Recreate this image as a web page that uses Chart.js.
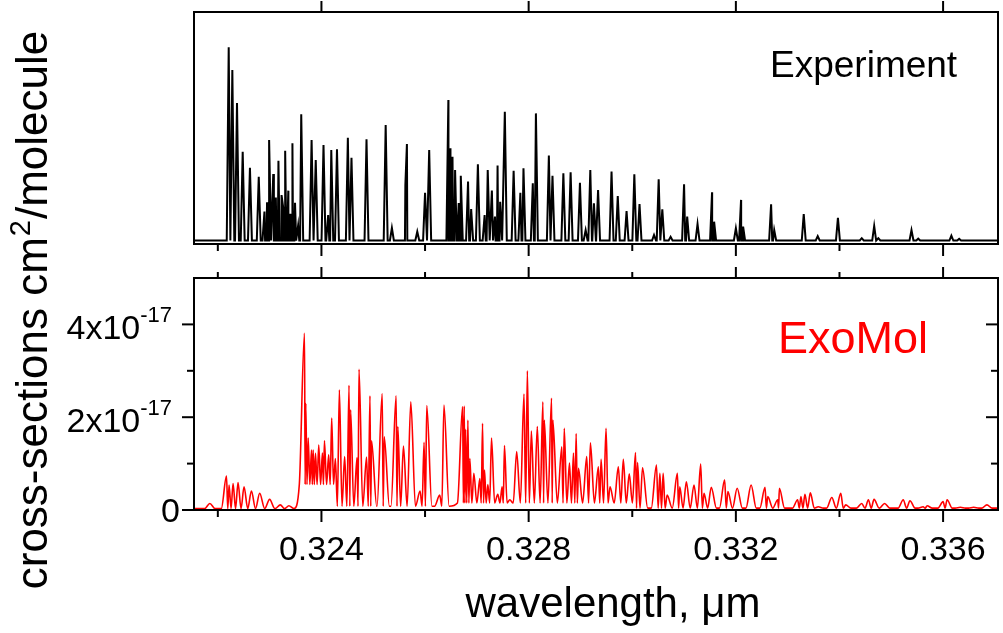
<!DOCTYPE html>
<html>
<head>
<meta charset="utf-8">
<script src="https://cdn.jsdelivr.net/npm/chart.js@4.4.1/dist/chart.umd.min.js"></script>
<style>
  html, body { margin: 0; padding: 0; background: #fff; }
  #wrap { position: relative; width: 1003px; height: 633px; }
  canvas { position: absolute; left: 0; top: 0; }
</style>
</head>
<body>
<div id="wrap">
  <canvas id="bottom" width="1003" height="633"></canvas>
  <canvas id="top" width="1003" height="633"></canvas>
</div>
<script>
// wavelength range, um
const X_MIN = 0.32154
const X_MAX = 0.33706
const xMajorTicks = [0.324, 0.328, 0.332, 0.336]
const xMinorTicks = [0.322, 0.326, 0.330, 0.334]
const xTickLabels = ['0.324', '0.328', '0.332', '0.336']

// lower panel y axis, units of 1e-17 cm^2/molecule
const yMajorTicks = [0, 2, 4]
const yMinorTicks = [1, 3]
const yTickLabels = [['0', ''], ['2x10', '-17'], ['4x10', '-17']]

// experiment: line centres (um) and peak heights (arb. units, 0..100 panel)
const expPeakX = [
  0.32221, 0.32228, 0.32237, 0.32248, 0.32262, 0.32279, 0.32290, 0.32295, 0.32299, 0.32307,
  0.32312, 0.32317, 0.32323, 0.32326, 0.32330, 0.32336, 0.32340, 0.32344, 0.32349, 0.32355,
  0.32361, 0.32381, 0.32389, 0.32404, 0.32413, 0.32419, 0.32430, 0.32451, 0.32458, 0.32487,
  0.32524, 0.32536, 0.32562, 0.32565, 0.32585, 0.32600, 0.32608, 0.32645, 0.32649, 0.32653,
  0.32658, 0.32665, 0.32669, 0.32683, 0.32689, 0.32702, 0.32715, 0.32721, 0.32729, 0.32735,
  0.32740, 0.32745, 0.32754, 0.32771, 0.32784, 0.32790, 0.32808, 0.32814, 0.32839, 0.32846,
  0.32867, 0.32881, 0.32899, 0.32910, 0.32919, 0.32926, 0.32934, 0.32960, 0.32972, 0.32989,
  0.33004, 0.33014, 0.33042, 0.33051, 0.33058, 0.33074, 0.33100, 0.33106, 0.33126, 0.33154,
  0.33158, 0.33200, 0.33210, 0.33214, 0.33268, 0.33274, 0.33331, 0.33358, 0.33397, 0.33443,
  0.33467, 0.33475, 0.33539, 0.33552, 0.33616, 0.33631
]
const expPeakY = [
  84.8, 75.0, 60.8, 39.8, 32.9, 29.0, 14.0, 18.0, 44.8, 30.2,
  20.0, 35.9, 21.1, 16.0, 40.2, 23.0, 13.0, 43.4, 17.8, 8.0,
  55.9, 44.8, 36.2, 42.7, 12.5, 40.5, 40.8, 45.8, 37.2, 45.1,
  51.3, 6.9, 25.4, 43.1, 5.3, 22.1, 40.5, 62.1, 41.3, 37.6,
  31.9, 17.7, 29.4, 26.9, 15.1, 34.4, 12.5, 31.9, 23.0, 11.8,
  33.8, 18.2, 57.0, 31.6, 22.1, 32.6, 26.2, 56.3, 38.1, 29.4,
  30.5, 30.9, 26.4, 6.0, 31.9, 17.5, 23.3, 31.2, 20.7, 14.2,
  30.0, 17.2, 3.9, 27.9, 15.0, 3.1, 25.7, 11.8, 8.6, 22.3,
  9.6, 6.8, 19.0, 7.5, 17.1, 6.0, 12.9, 3.4, 11.3, 2.5,
  7.8, 2.5, 6.0, 2.3, 3.6, 2.2
]
const EXP_BASE = 1.5
const EXP_HW = 0.000038

// ExoMol: line centres (um) and peak cross-sections (1e-17 cm^2/molecule)
const exoPeakX = [
  0.321846, 0.322167, 0.322217, 0.322294, 0.322390, 0.322506, 0.322648, 0.322808, 0.323000, 0.323206,
  0.323371, 0.323673, 0.323698, 0.323744, 0.323808, 0.323840, 0.323885, 0.323948, 0.324019, 0.324058,
  0.324140, 0.324198, 0.324269, 0.324346, 0.324448, 0.324533, 0.324563, 0.324687, 0.324725, 0.324871,
  0.324937, 0.324967, 0.325173, 0.325212, 0.325442, 0.325475, 0.325583, 0.325725, 0.325904, 0.325981,
  0.326033, 0.326283, 0.326365, 0.326725, 0.326756, 0.326783, 0.326827, 0.326865, 0.326942, 0.327058,
  0.327110, 0.327148, 0.327212, 0.327283, 0.327404, 0.327487, 0.327533, 0.327635, 0.327769, 0.327910,
  0.327975, 0.328052, 0.328167, 0.328275, 0.328302, 0.328442, 0.328467, 0.328640, 0.328687, 0.328788,
  0.328865, 0.328917, 0.328962, 0.329121, 0.329192, 0.329346, 0.329398, 0.329494, 0.329571, 0.329731,
  0.329827, 0.329942, 0.330063, 0.330102, 0.330198, 0.330467, 0.330533, 0.330596, 0.330673, 0.330871,
  0.330917, 0.331044, 0.331192, 0.331321, 0.331385, 0.331525, 0.331783, 0.331846, 0.332025, 0.332294,
  0.332563, 0.332615, 0.332808, 0.332840, 0.333192, 0.333256, 0.333333, 0.333437, 0.333590, 0.333852,
  0.334025, 0.334121, 0.334429, 0.334558, 0.334667, 0.334871, 0.335231, 0.335360, 0.335615, 0.335692,
  0.336000, 0.336077, 0.336333, 0.336590, 0.336846
]
const exoPeakY = [
  0.14, 0.73, 0.54, 0.57, 0.59, 0.50, 0.41, 0.36, 0.23, 0.11,
  0.09, 3.81, 2.30, 1.55, 1.29, 1.29, 1.22, 1.40, 1.23, 1.49,
  1.19, 1.98, 1.11, 2.59, 1.15, 2.69, 2.16, 1.13, 3.03, 1.14,
  2.46, 1.49, 2.51, 1.58, 2.46, 1.80, 1.38, 2.33, 0.41, 1.46,
  2.25, 0.32, 2.26, 2.23, 2.24, 1.74, 1.94, 1.11, 0.79, 0.68,
  1.87, 0.86, 0.55, 1.55, 0.34, 0.50, 1.39, 0.22, 1.26, 2.50,
  3.00, 1.70, 1.80, 2.33, 1.94, 2.41, 1.94, 1.36, 1.76, 1.01,
  1.23, 1.65, 0.90, 1.15, 1.45, 0.93, 1.09, 1.76, 0.50, 0.93,
  1.09, 0.78, 1.24, 1.02, 0.91, 0.97, 0.79, 0.79, 0.32, 0.79,
  0.50, 0.61, 0.54, 0.99, 0.36, 0.49, 0.65, 0.40, 0.47, 0.54,
  0.49, 0.29, 0.22, 0.47, 0.22, 0.29, 0.34, 0.37, 0.07, 0.27,
  0.36, 0.11, 0.14, 0.22, 0.23, 0.14, 0.22, 0.20, 0.07, 0.09,
  0.18, 0.22, 0.06, 0.06, 0.11
]
// valley level between ExoMol lines, per wavelength band
const exoFloorEdges = [0.32154, 0.32365, 0.32425, 0.32650, 0.33000, 0.33706]
const exoFloorLevel = [0.03, 0.55, 0.08, 0.15, 0.04]
const EXO_HW = 0.0001

function floorAt(x) {
  for (let i = 0; i < exoFloorLevel.length; i++) {
    if (x < exoFloorEdges[i + 1]) return exoFloorLevel[i]
  }
  return exoFloorLevel[exoFloorLevel.length - 1]
}

function expSeries() {
  let pts = [{x: X_MIN, y: EXP_BASE}, {x: X_MAX, y: EXP_BASE}]
  expPeakX.forEach((x, i) => {
    pts.push({x: x - EXP_HW, y: EXP_BASE}, {x: x, y: expPeakY[i]}, {x: x + EXP_HW, y: EXP_BASE})
  })
  return pts.sort((a, b) => a.x - b.x)
}

function exoSeries() {
  let pts = [{x: X_MIN, y: floorAt(X_MIN)}]
  exoPeakX.forEach((x, i) => {
    let prev = exoPeakX[i - 1]
    let next = exoPeakX[i + 1]
    if (prev === undefined || x - prev > 2 * EXO_HW) pts.push({x: x - EXO_HW, y: floorAt(x)})
    pts.push({x: x, y: exoPeakY[i]})
    if (next === undefined || next - x > 2 * EXO_HW) {
      pts.push({x: x + EXO_HW, y: floorAt(x)})
    } else {
      pts.push({x: (x + next) / 2, y: Math.min(floorAt(x), exoPeakY[i], exoPeakY[i + 1])})
    }
  })
  pts.push({x: X_MAX, y: floorAt(X_MAX)})
  return pts
}

const FONT = '"Liberation Sans", Arial, sans-serif'

// draws the boxed frame, the ticks and the texts of one panel
const framePlugin = {
  id: 'frame',
  afterDraw(chart, args, o) {
    let {ctx, chartArea: a, scales} = chart
    let sx = scales.x, sy = scales.y
    ctx.save()
    ctx.strokeStyle = '#000'
    ctx.lineWidth = 2
    ctx.strokeRect(a.left, a.top, a.right - a.left, a.bottom - a.top)

    let vline = (px, y0, y1) => { ctx.beginPath(); ctx.moveTo(px, y0); ctx.lineTo(px, y1); ctx.stroke() }
    let hline = (py, x0, x1) => { ctx.beginPath(); ctx.moveTo(x0, py); ctx.lineTo(x1, py); ctx.stroke() }

    // top edge ticks, pointing out
    xMajorTicks.forEach(v => vline(sx.getPixelForValue(v), a.top, a.top - 11))
    if (o.topMinor) xMinorTicks.forEach(v => vline(sx.getPixelForValue(v), a.top, a.top - 6))
    // bottom edge ticks, pointing out
    xMajorTicks.forEach(v => vline(sx.getPixelForValue(v), a.bottom, a.bottom + 12))
    xMinorTicks.forEach(v => vline(sx.getPixelForValue(v), a.bottom, a.bottom + 7))

    if (o.yAxis) {
      yMajorTicks.forEach(v => {
        let py = sy.getPixelForValue(v)
        hline(py, a.left, a.left - 12)
        hline(py, a.right, a.right - 12)
      })
      yMinorTicks.forEach(v => {
        let py = sy.getPixelForValue(v)
        hline(py, a.left, a.left - 7)
        hline(py, a.right, a.right - 7)
      })
      // y tick labels with exponent
      ctx.fillStyle = '#000'
      ctx.textBaseline = 'alphabetic'
      yMajorTicks.forEach((v, i) => {
        let py = sy.getPixelForValue(v)
        let [base, sup] = yTickLabels[i]
        ctx.font = '22px ' + FONT
        let wSup = sup ? ctx.measureText(sup).width : 0
        let xr = a.left - (sup ? 22 : 14)
        if (sup) {
          ctx.textAlign = 'right'
          ctx.fillText(sup, xr, py - 2)
        }
        ctx.font = '34px ' + FONT
        ctx.textAlign = 'right'
        ctx.fillText(base, xr - wSup, py + 12 + (sup ? 3 : 0))
      })
    }

    if (o.xLabels) {
      ctx.fillStyle = '#000'
      ctx.font = '34px ' + FONT
      ctx.textAlign = 'center'
      ctx.textBaseline = 'alphabetic'
      xMajorTicks.forEach((v, i) => ctx.fillText(xTickLabels[i], sx.getPixelForValue(v), a.bottom + 50))
    }

    if (o.label) {
      ctx.fillStyle = o.labelColor
      ctx.font = o.labelSize + 'px ' + FONT
      ctx.textAlign = 'left'
      ctx.textBaseline = 'alphabetic'
      ctx.fillText(o.label, o.labelX, o.labelY)
    }

    if (o.titles) {
      ctx.fillStyle = '#000'
      ctx.font = '42px ' + FONT
      ctx.textAlign = 'center'
      ctx.textBaseline = 'alphabetic'
      ctx.fillText('wavelength, \u03bcm', 613, 617)

      // rotated y title with superscript
      let p1 = 'cross-sections cm', p2 = '2', p3 = '/molecule'
      ctx.font = '44px ' + FONT
      let w1 = ctx.measureText(p1).width, w3 = ctx.measureText(p3).width
      ctx.font = '29px ' + FONT
      let w2 = ctx.measureText(p2).width
      let total = w1 + w2 + w3
      ctx.translate(47, 311)
      ctx.rotate(-Math.PI / 2)
      ctx.textAlign = 'left'
      let x0 = -total / 2
      ctx.font = '44px ' + FONT
      ctx.fillText(p1, x0, 0)
      ctx.font = '29px ' + FONT
      ctx.fillText(p2, x0 + w1 + 1, -17)
      ctx.font = '44px ' + FONT
      ctx.fillText(p3, x0 + w1 + w2 + 2, 0)
    }
    ctx.restore()
  }
}

function panel(canvasId, data, color, width, smooth, yMax, pad, frameOpts) {
  return new Chart(document.getElementById(canvasId), {
    type: 'line',
    data: {
      datasets: [{
        data: data,
        borderColor: color,
        borderWidth: width,
        pointRadius: 0,
        fill: false,
        cubicInterpolationMode: smooth ? 'monotone' : 'default',
        tension: 0
      }]
    },
    options: {
      responsive: false,
      animation: false,
      devicePixelRatio: 1,
      parsing: false,
      layout: {padding: pad},
      scales: {
        x: {type: 'linear', min: X_MIN, max: X_MAX, display: false},
        y: {type: 'linear', min: 0, max: yMax, display: false}
      },
      plugins: {
        legend: {display: false},
        tooltip: {enabled: false},
        frame: frameOpts
      }
    },
    plugins: [framePlugin]
  })
}

panel('top', expSeries(), '#000', 2, false, 100,
      {left: 194, right: 5, top: 12, bottom: 633 - 244},
      {topMinor: false, label: 'Experiment', labelColor: '#000', labelSize: 37, labelX: 770, labelY: 77})

panel('bottom', exoSeries(), '#ff0000', 1.6, true, 5,
      {left: 194, right: 5, top: 278, bottom: 633 - 510},
      {topMinor: true, yAxis: true, xLabels: true, titles: true,
       label: 'ExoMol', labelColor: '#ff0000', labelSize: 45, labelX: 778, labelY: 353})
</script>
</body>
</html>
